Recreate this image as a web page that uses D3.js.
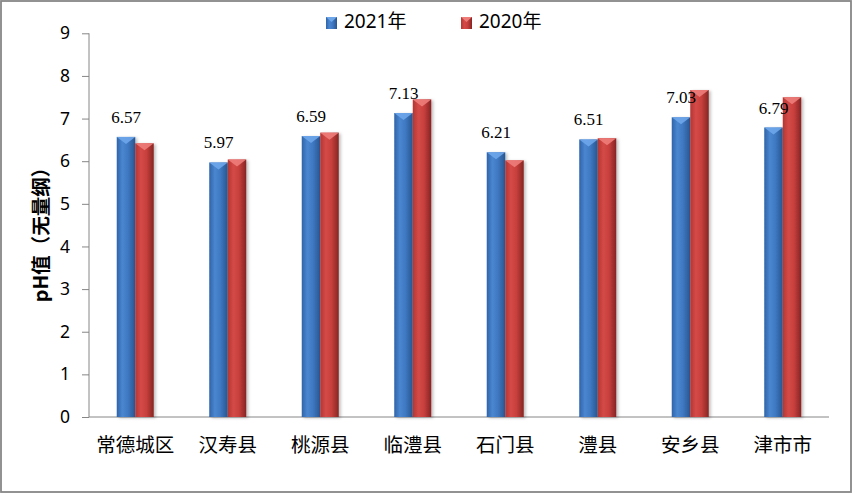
<!DOCTYPE html>
<html><head><meta charset="utf-8">
<script src="https://cdn.jsdelivr.net/npm/d3@7"></script>
<style>body{margin:0;background:#fff}svg{display:block}</style>
</head><body>
<script>
const categories = ["常德城区","汉寿县","桃源县","临澧县","石门县","澧县","安乡县","津市市"];
const values2021 = [6.57,5.97,6.59,7.13,6.21,6.51,7.03,6.79];
const values2020 = [6.42,6.04,6.67,7.45,6.02,6.54,7.67,7.50];
const seriesNames = ["2021年","2020年"];
const yTicks = [0,1,2,3,4,5,6,7,8,9];

const W=853,H=493;
const svg=d3.select("body").append("svg").attr("width",W).attr("height",H);
const defs=svg.append("defs");
function grad(id,stops){
  const g=defs.append("linearGradient").attr("id",id).attr("x1","0").attr("x2","1").attr("y1","0").attr("y2","0");
  stops.forEach(s=>g.append("stop").attr("offset",s[0]).attr("stop-color",s[1]));
}
grad("gb",[[0,"#2f64a8"],[0.3,"#4a86d0"],[0.6,"#3f79c2"],[1,"#28558f"]]);
grad("gr",[[0,"#b33633"],[0.3,"#d44a47"],[0.6,"#c8403d"],[1,"#862523"]]);
const f=defs.append("filter").attr("id","sh").attr("x","-20%").attr("y","-5%").attr("width","160%").attr("height","115%");
f.append("feDropShadow").attr("dx",2).attr("dy",1).attr("stdDeviation",1.5).attr("flood-color","#000").attr("flood-opacity",0.25);

svg.append("rect").attr("x",1).attr("y",1).attr("width",W-3).attr("height",H-2)
  .attr("fill","#fff").attr("stroke","#878787").attr("stroke-width",1.8);

const x0=d3.scaleBand().domain(categories).range([89,829]).paddingInner(0).paddingOuter(0);
const x1=d3.scaleBand().domain(seriesNames).range([-18.5,18.5]);
const y=d3.scaleLinear().domain([0,9]).range([417,33.3]);

// axes
const ya=svg.append("g").attr("transform","translate(89,0)")
  .call(d3.axisLeft(y).tickValues(yTicks).tickSize(7).tickPadding(12).tickFormat(d3.format("d")));
ya.select(".domain").attr("stroke","#868686").attr("d","M0,"+y(9)+"V"+y(0));
ya.selectAll(".tick line").attr("stroke","#868686");
ya.selectAll("text").attr("font-family","'Noto Sans','Open Sans',sans-serif").attr("font-size",17.5).attr("fill","#000");

svg.append("line").attr("x1",89).attr("x2",829).attr("y1",y(0)).attr("y2",y(0)).attr("stroke","#868686");

const data=categories.map((c,i)=>({c,vals:[values2021[i],values2020[i]]}));
const fills=["url(#gb)","url(#gr)"];
const tops=["#6ea6ea","#ee7d7a"];
const g=svg.append("g");
data.forEach(d=>{
  d.vals.forEach((v,j)=>{
    const bx=x0(d.c)+x0.bandwidth()/2+x1(seriesNames[j]);
    const bw=x1.bandwidth();
    const by=y(v);
    g.append("rect").attr("x",bx).attr("y",by).attr("width",bw).attr("height",y(0)-by)
      .attr("fill",fills[j]).attr("filter","url(#sh)");
    g.append("path").attr("d",`M${bx},${by}L${bx+bw},${by}L${bx+bw/2},${by+7}Z`).attr("fill",tops[j]).attr("opacity",0.9);
  });
  const lx=x0(d.c)+x0.bandwidth()/2+x1(seriesNames[0])+x1.bandwidth()/2;
  svg.append("text").attr("x",lx).attr("y",y(d.vals[0])-14).attr("text-anchor","middle")
    .attr("font-family","'Liberation Serif','Times New Roman',serif").attr("font-size",17).attr("fill","#000").text(d.vals[0].toFixed(2));
});

// x labels
svg.selectAll(".xl").data(categories).enter().append("text")
  .attr("x",d=>x0(d)+x0.bandwidth()/2).attr("y",452).attr("text-anchor","middle")
  .attr("font-family","'Noto Sans CJK SC',sans-serif").attr("font-size",19.5).attr("fill","#000").text(d=>d);

// y title
svg.append("text").attr("transform","translate(48,230) rotate(-90)").attr("text-anchor","middle")
  .attr("font-family","'Noto Sans CJK SC',sans-serif").attr("font-weight","bold").attr("font-size",19.5).attr("fill","#000")
  .text("pH值（无量纲）");

// legend
const legX=[326,461];
seriesNames.forEach((s,j)=>{
  svg.append("rect").attr("x",legX[j]).attr("y",17).attr("width",11).attr("height",12).attr("fill",fills[j]);
  svg.append("path").attr("d",`M${legX[j]},17L${legX[j]+11},17L${legX[j]+5.5},22Z`).attr("fill",tops[j]);
  svg.append("text").attr("x",legX[j]+18).attr("y",28).attr("font-family","'Noto Sans','Noto Sans CJK SC',sans-serif")
    .attr("font-size",19).attr("fill","#000").text(s);
});
</script>
</body></html>
